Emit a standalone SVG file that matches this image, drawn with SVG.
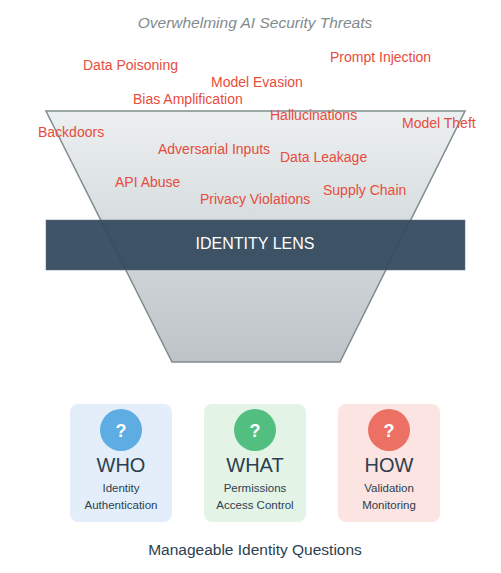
<svg xmlns="http://www.w3.org/2000/svg" width="501" height="573" viewBox="0 0 501 573">
<defs>
<linearGradient id="fg" x1="0" y1="0" x2="0" y2="1">
<stop offset="0" stop-color="#ecf0f1"/>
<stop offset="1" stop-color="#bdc3c7"/>
</linearGradient>
<style>
text{font-family:"Liberation Sans",Arial,sans-serif}
.t{fill:#e74c3c;font-size:14px}
.h{fill:#2c3e50;font-size:20px;text-anchor:middle}
.s{fill:#2c3e50;font-size:11.5px;text-anchor:middle}
.q{fill:#fff;font-size:18px;font-weight:bold;text-anchor:middle}
</style>
</defs>
<rect width="501" height="573" fill="#fff"/>
<text x="255" y="28" text-anchor="middle" font-size="15.5" font-style="italic" fill="#7f8c8d">Overwhelming AI Security Threats</text>
<g id="funnel">
<polygon points="46,111 465,111 340,362 172,362" fill="url(#fg)" stroke="#7f8c8d" stroke-width="1.5"/>
</g>
<g id="threats">
<text class="t" x="83" y="70">Data Poisoning</text>
<text class="t" x="330" y="62">Prompt Injection</text>
<text class="t" x="211" y="87">Model Evasion</text>
<text class="t" x="133" y="104">Bias Amplification</text>
<text class="t" x="270" y="120">Hallucinations</text>
<text class="t" x="402" y="128">Model Theft</text>
<text class="t" x="38" y="137">Backdoors</text>
<text class="t" x="158" y="154">Adversarial Inputs</text>
<text class="t" x="280" y="162">Data Leakage</text>
<text class="t" x="115" y="187">API Abuse</text>
<text class="t" x="323" y="195">Supply Chain</text>
<text class="t" x="200" y="204">Privacy Violations</text>
</g>
<g id="lens">
<rect x="46" y="220" width="419" height="50" fill="#34495e" fill-opacity="0.94" stroke="#5d6d7e" stroke-width="0.5"/>
<text x="255" y="249" text-anchor="middle" font-size="16" fill="#fff">IDENTITY LENS</text>
</g>
<g id="who">
<rect x="70" y="404" width="102" height="118" rx="8" fill="#e3eefa"/>
<circle cx="121" cy="430" r="21" fill="#5dade2"/>
<text class="q" x="121" y="437">?</text>
<text class="h" x="121" y="472">WHO</text>
<text class="s" x="121" y="492">Identity</text>
<text class="s" x="121" y="509">Authentication</text>
</g>
<g id="what">
<rect x="204" y="404" width="102" height="118" rx="8" fill="#e3f3e6"/>
<circle cx="255" cy="430" r="21" fill="#52be80"/>
<text class="q" x="255" y="437">?</text>
<text class="h" x="255" y="472">WHAT</text>
<text class="s" x="255" y="492">Permissions</text>
<text class="s" x="255" y="509">Access Control</text>
</g>
<g id="how">
<rect x="338" y="404" width="102" height="118" rx="8" fill="#fbe4e1"/>
<circle cx="389" cy="430" r="21" fill="#ec7063"/>
<text class="q" x="389" y="437">?</text>
<text class="h" x="389" y="472">HOW</text>
<text class="s" x="389" y="492">Validation</text>
<text class="s" x="389" y="509">Monitoring</text>
</g>
<g id="connectors"></g>
<text x="255" y="555" text-anchor="middle" font-size="15.5" fill="#2c3e50">Manageable Identity Questions</text>
</svg>
